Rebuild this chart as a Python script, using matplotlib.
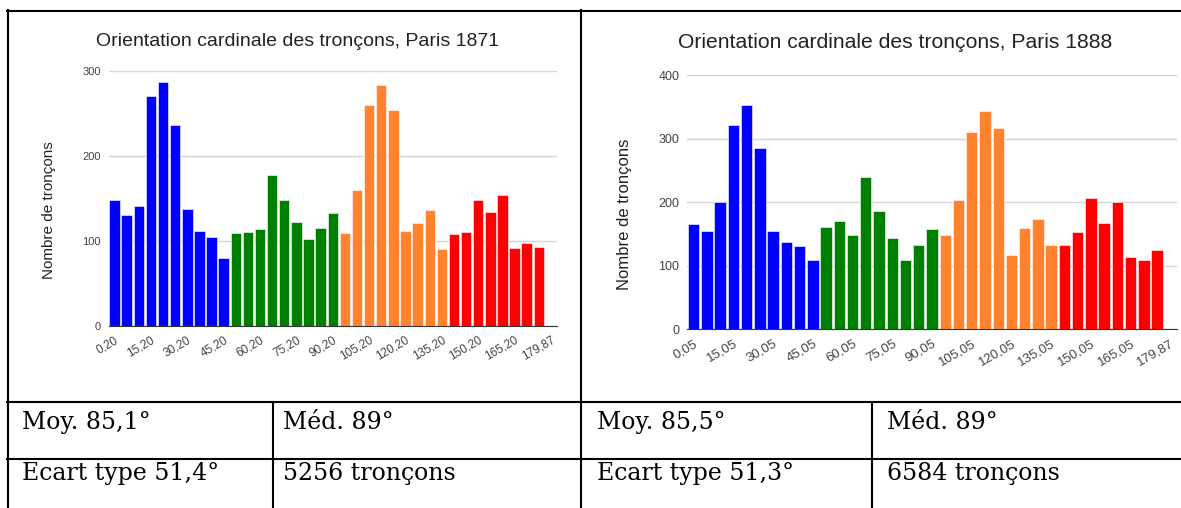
import matplotlib.pyplot as plt
import numpy as np

W, H = 1181, 508

# 5 degree bins, the last slot (179,87) carries no bar
bins = [f"{a},20" for a in range(0, 180, 5)] + ["179,87"]
bins_1888 = [f"{a},05" for a in range(0, 180, 5)] + ["179,87"]

counts_1871 = [148, 130, 141, 270, 287, 236, 138, 111, 105, 80,
               109, 110, 114, 178, 148, 122, 102, 115, 133,
               109, 160, 260, 284, 254, 112, 121, 136, 90,
               108, 110, 148, 134, 154, 91, 97, 93]
counts_1888 = [166, 154, 200, 321, 353, 285, 154, 138, 131, 109,
               161, 171, 149, 239, 186, 144, 109, 133, 158,
               149, 204, 311, 343, 316, 117, 159, 173, 133,
               133, 153, 206, 167, 200, 113, 109, 124]

group_sizes = [10, 9, 9, 8]
group_colors = ["#0000ff", "#008000", "#ff832e", "#ff0000"]

stats_1871 = [["Moy. 85,1°", "Méd. 89°"], ["Ecart type 51,4°", "5256 tronçons"]]
stats_1888 = [["Moy. 85,5°", "Méd. 89°"], ["Ecart type 51,3°", "6584 tronçons"]]

plt.rcParams['font.family'] = ['Liberation Sans', 'DejaVu Sans']


def px(x0, y0, x1, y1):
    # pixel box -> figure fraction rect
    return [x0 / W, 1 - y1 / H, (x1 - x0) / W, (y1 - y0) / H]


def plot_hist(ax, labels, counts, ymax, yfs, xfs):
    x = np.arange(len(counts))
    colors = np.repeat(group_colors, group_sizes)
    ax.bar(x, counts, width=0.86, color=colors, edgecolor='white',
           linewidth=0.4, zorder=2)
    ax.set_xlim(-0.5, len(labels) - 0.5)
    ax.set_ylim(0, ymax)
    ax.set_yticks(np.arange(0, ymax + 1, 100))
    ax.grid(axis='y', color='#d6d6d6', lw=1)
    ax.set_axisbelow(True)
    for s in ['top', 'right', 'left']:
        ax.spines[s].set_visible(False)
    ax.spines['bottom'].set_color('#333333')
    ax.spines['bottom'].set_zorder(3)
    ticks = np.arange(0, len(labels), 3)
    ax.set_xticks(ticks)
    ax.set_xticklabels([labels[i] for i in ticks], rotation=30, ha='right',
                       va='top', rotation_mode='anchor')
    ax.tick_params(length=0, labelcolor='#444444')
    ax.tick_params(axis='y', pad=5.5, labelsize=yfs)
    ax.tick_params(axis='x', pad=6, labelsize=xfs)


fig = plt.figure(figsize=(W / 100, H / 100), dpi=100)

# table frame
tab = fig.add_axes([0, 0, 1, 1])
tab.set_xlim(0, W)
tab.set_ylim(H, 0)
tab.axis('off')
lw = 1.5
tab.plot([6.5, W], [10.5, 10.5], color='black', lw=lw)
tab.plot([7.5, 7.5], [10, H], color='black', lw=lw)
tab.plot([581, 581], [10, H], color='black', lw=lw)
tab.plot([7, W], [402, 402], color='black', lw=lw)
tab.plot([7, W], [459, 459], color='black', lw=lw)
tab.plot([272.5, 272.5], [402, H], color='black', lw=lw)
tab.plot([872, 872], [402, H], color='black', lw=lw)

for stats, xs in [(stats_1871, [22, 283]), (stats_1888, [597, 887])]:
    for row, yb in zip(stats, [429, 480]):
        for txt, xx in zip(row, xs):
            tab.text(xx, yb, txt, fontsize=17, family='DejaVu Serif',
                     ha='left', va='baseline', color='black')

ax1 = fig.add_axes(px(108.5, 71, 557, 325.7))
plot_hist(ax1, bins, counts_1871, 300, 8, 8.5)
fig.text(297.5 / W, 1 - 41 / H, "Orientation cardinale des tronçons, Paris 1871",
         ha='center', va='center', fontsize=14, color='#222222')
fig.text(49 / W, 1 - 210 / H, "Nombre de tronçons", rotation=90,
         ha='center', va='center', fontsize=11, color='#222222')

ax2 = fig.add_axes(px(687, 75, 1177, 329.3))
plot_hist(ax2, bins_1888, counts_1888, 400, 9, 9.5)
fig.text(895 / W, 1 - 43 / H, "Orientation cardinale des tronçons, Paris 1888",
         ha='center', va='center', fontsize=15.2, color='#222222')
fig.text(624 / W, 1 - 214 / H, "Nombre de tronçons", rotation=90,
         ha='center', va='center', fontsize=12, color='#222222')

fig.savefig('out.png', dpi=100)
